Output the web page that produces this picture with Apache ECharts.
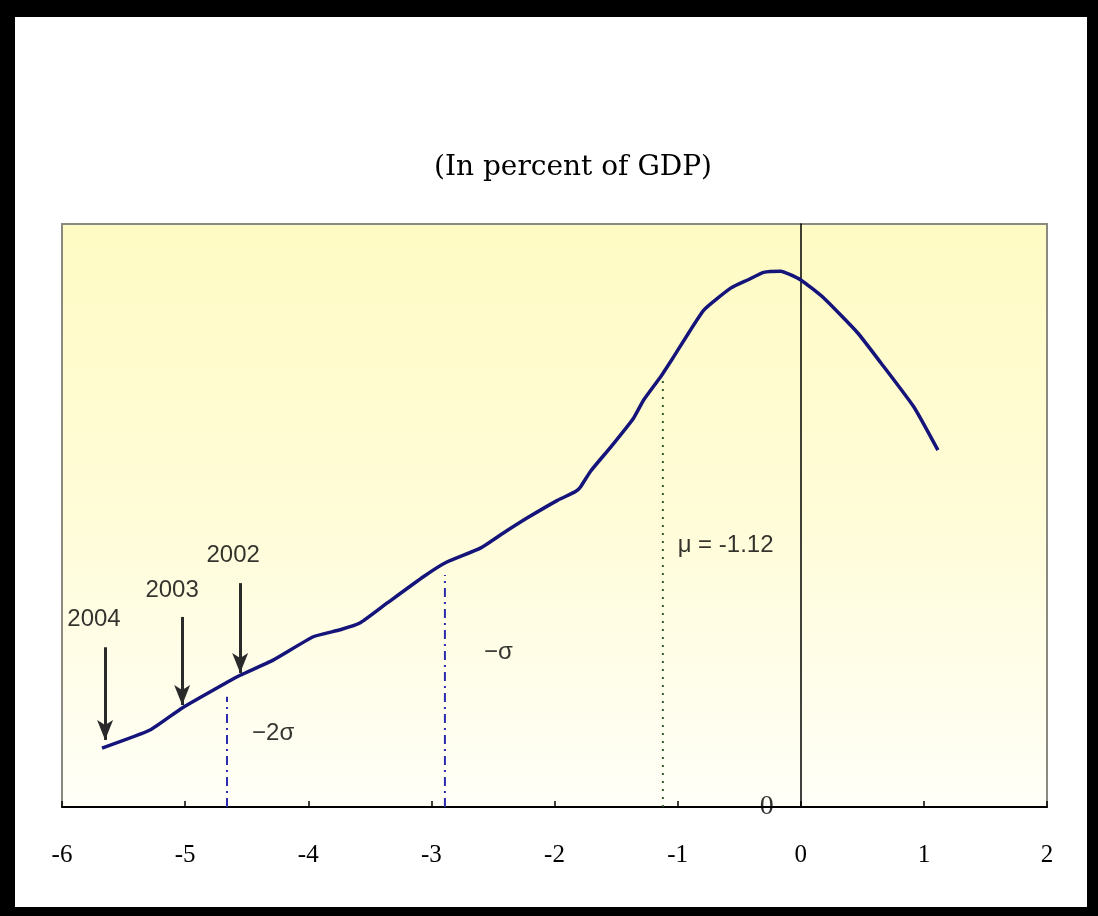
<!DOCTYPE html>
<html>
<head>
<meta charset="utf-8">
<script src="https://cdn.jsdelivr.net/npm/echarts@6/dist/echarts.min.js"></script>
<style>
  html, body { margin: 0; padding: 0; background: #fff; }
  .wrap { position: relative; width: 1098px; height: 916px; }
  #chart { position: absolute; left: 0; top: 0; width: 1098px; height: 916px; }
  .frame {
    position: absolute; left: 0; top: 0; width: 1098px; height: 916px;
    box-sizing: border-box; pointer-events: none;
    border-style: solid; border-color: #000;
    border-width: 17px 11px 9px 15px;
  }
</style>
</head>
<body>
<div class="wrap">
  <div id="chart"></div>
  <div class="frame"></div>
</div>
<script>
// distribution curve (x: percent of GDP, y: relative density)
const curveX = [-5.675, -5.285, -5.024, -4.659, -4.553, -4.285, -3.959, -3.740, -3.577, -3.358,
  -3.065, -2.886, -2.602, -2.415, -2.220, -1.976, -1.829, -1.789, -1.707,
  -1.545, -1.358, -1.276, -1.138, -1.033, -0.789, -0.569, -0.431, -0.301, -0.163,
  0, 0.187, 0.463, 0.650, 0.919, 1.114];
const curveY = [10.1, 13.2, 17.0, 21.4, 22.6, 25.2, 29.2, 30.4, 31.6, 35.0,
  39.5, 41.9, 44.4, 47.0, 49.6, 52.6, 54.1, 54.9, 57.6,
  61.7, 66.7, 69.8, 73.8, 77.2, 85.2, 89.0, 90.4, 91.7, 91.9,
  90.4, 87.3, 81.3, 76.2, 68.6, 61.2];

const xTicks = [-6, -5, -4, -3, -2, -1, 0, 1, 2];

// mean / standard deviation markers
const statNames = ['-2s', '-s', 'mu'];
const statX = [-4.66, -2.89, -1.12];
const statTop = [18.9, 39.8, 73.8];

// year arrows
const yearNames = ['2004', '2003', '2002'];
const arrowX = [-5.65, -5.024, -4.553];
const arrowFrom = [27.4, 32.6, 38.4];
const arrowTo = [11.5, 17.5, 23.0];
const yearLabelX = [-5.74, -5.106, -4.61];
const yearLabelY = [32.1, 37.2, 43.2];

// text notes
const noteText = ['\u22122\u03c3', '\u2212\u03c3', '\u03bc = -1.12'];
const noteX = [-4.285, -2.455, -1.0];
const noteY = [12.7, 26.6, 44.9];

const chart = echarts.init(document.getElementById('chart'));

const curveData = curveX.map((x, i) => [x, curveY[i]]);

const statStyles = [
  { color: '#2b2bb0', type: [9, 5, 2, 5] },
  { color: '#2b2bb0', type: [9, 5, 2, 5] },
  { color: '#2f5f2f', type: [2, 6] }
];

const statSeries = statX.map((x, i) => ({
  name: statNames[i],
  type: 'line',
  data: [[x, 0], [x, statTop[i]]],
  symbol: 'none',
  silent: true,
  lineStyle: { color: statStyles[i].color, width: 2, type: statStyles[i].type },
  z: 2
}));

const labelFont = { fontFamily: 'Liberation Sans', fontSize: 24, color: '#000', textBorderWidth: 0 };

const option = {
  animation: false,
  backgroundColor: '#fff',
  title: {
    text: '(In percent of GDP)',
    left: 568,
    top: 149,
    textAlign: 'center',
    textStyle: { fontFamily: 'DejaVu Serif', fontSize: 28, fontWeight: 'normal', color: '#000' }
  },
  grid: {
    left: 62, right: 51, top: 224, bottom: 109,
    show: true,
    borderColor: '#8a8a80',
    borderWidth: 2,
    backgroundColor: {
      type: 'linear', x: 0, y: 0, x2: 0, y2: 1,
      colorStops: [
        { offset: 0, color: '#fffbc4' },
        { offset: 0.5, color: '#fffcd8' },
        { offset: 1, color: '#fffff8' }
      ]
    }
  },
  xAxis: {
    type: 'value',
    min: -6, max: 2, interval: 1,
    axisLine: { onZero: false, lineStyle: { color: '#000', width: 2 } },
    axisTick: { inside: true, length: 6, lineStyle: { color: '#000', width: 1.5 } },
    splitLine: { show: false },
    axisLabel: {
      margin: 36,
      fontFamily: 'Liberation Serif', fontSize: 25, color: '#000',
      formatter: v => xTicks.includes(v) ? String(v) : ''
    }
  },
  yAxis: {
    type: 'value',
    min: 0, max: 100, interval: 100,
    axisLine: { show: true, onZero: true, lineStyle: { color: '#000', width: 1.5 } },
    axisTick: { show: false },
    splitLine: { show: false },
    axisLabel: { show: false }
  },
  series: [
    ...statSeries,
    {
      name: 'curve',
      type: 'line',
      data: curveData,
      symbol: 'none',
      smooth: 0.15,
      lineStyle: { color: '#14147a', width: 3.5 },
      z: 4,
      markLine: {
        silent: true,
        symbol: ['none', 'arrow'],
        symbolSize: [12, 20],
        label: { show: false },
        lineStyle: { color: '#2a2a2a', width: 3, type: 'solid' },
        data: arrowX.map((x, i) => [{ coord: [x, arrowFrom[i]] }, { coord: [x, arrowTo[i]] }])
      }
    },
    {
      name: 'years',
      type: 'scatter',
      symbolSize: 0,
      silent: true,
      data: yearNames.map((n, i) => ({ name: n, value: [yearLabelX[i], yearLabelY[i]] })),
      label: Object.assign({ show: true, position: 'inside', formatter: p => p.name }, labelFont)
    },
    {
      name: 'notes',
      type: 'scatter',
      symbolSize: 0,
      silent: true,
      data: noteText.map((t, i) => ({
        name: t,
        value: [noteX[i], noteY[i]],
        label: i === 2 ? { position: 'right', distance: 0 } : {}
      })),
      label: Object.assign({ show: true, position: 'inside', formatter: p => p.name }, labelFont)
    },
    {
      // y-axis origin label sits beside the zero line
      name: 'origin',
      type: 'scatter',
      symbolSize: 0,
      silent: true,
      data: [{ name: '0', value: [0, 0] }],
      label: {
        show: true, position: 'left', distance: 27, formatter: p => p.name,
        fontFamily: 'Liberation Serif', fontSize: 28, color: '#000'
      }
    }
  ]
};

chart.setOption(option);
</script>
</body>
</html>
